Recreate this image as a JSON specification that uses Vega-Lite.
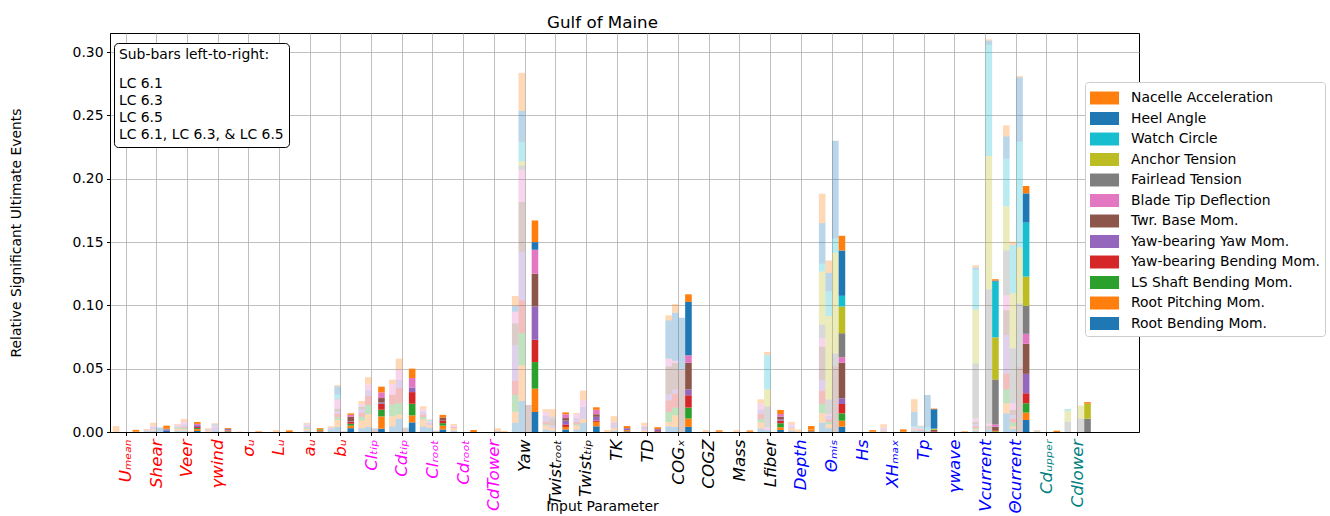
{
"$schema": "https://vega.github.io/schema/vega-lite/v6.json",
"width": 1029, "height": 399,
"autosize": {"type": "none"},
"padding": {"left": 110, "top": 33, "right": 191, "bottom": 84},
"background": "white",
"config": {
  "font": "DejaVu Sans",
  "view": {"stroke": "black", "strokeWidth": 1},
  "axis": {"labelFont": "DejaVu Sans", "titleFont": "DejaVu Sans", "labelColor": "black", "titleColor": "black", "tickColor": "black", "domainColor": "black", "gridColor": "#b0b0b0", "gridWidth": 0.8, "domainWidth": 1, "tickWidth": 1},
  "legend": {"labelFont": "DejaVu Sans", "titleFont": "DejaVu Sans"}
},
"title": {"text": "Gulf of Maine", "fontSize": 16.7, "fontWeight": "normal", "color": "black", "anchor": "middle", "offset": 8, "baseline": "alphabetic", "dx": -22, "dy": 20},
"data": {"values": [
{"p":"Uₘₑₐₙ","lc":"LC 6.1","RP":0.0007,"NA":0.004},
{"p":"Uₘₑₐₙ","lc":"LC 6.1, LC 6.3, & LC 6.5","RP":0.0005,"NA":0.0012},
{"p":"Shear","lc":"LC 6.1","RB":0.0005,"YY":0.0008,"NA":0.001},
{"p":"Shear","lc":"LC 6.3","RB":0.001,"RP":0.001,"YY":0.002,"BT":0.001,"NA":0.0023},
{"p":"Shear","lc":"LC 6.5","RB":0.0005,"HA":0.003},
{"p":"Shear","lc":"LC 6.1, LC 6.3, & LC 6.5","RB":0.001,"YY":0.001,"FT":0.0005,"NA":0.0025},
{"p":"Veer","lc":"LC 6.1","RB":0.001,"RP":0.0015,"LS":0.001,"YY":0.001,"BT":0.0007,"NA":0.001},
{"p":"Veer","lc":"LC 6.3","RB":0.001,"RP":0.001,"LS":0.001,"YB":0.001,"YY":0.002,"BT":0.002,"NA":0.0023},
{"p":"Veer","lc":"LC 6.5","NA":0.0005},
{"p":"Veer","lc":"LC 6.1, LC 6.3, & LC 6.5","RB":0.0008,"RP":0.0015,"LS":0.0008,"YB":0.0008,"YY":0.0015,"BT":0.001,"NA":0.0015},
{"p":"γwind","lc":"LC 6.1","RP":0.001,"YY":0.001,"NA":0.001},
{"p":"γwind","lc":"LC 6.3","RB":0.001,"YY":0.003,"BT":0.001,"HA":0.001,"NA":0.001},
{"p":"γwind","lc":"LC 6.5","NA":0.0003},
{"p":"γwind","lc":"LC 6.1, LC 6.3, & LC 6.5","RB":0.0005,"RP":0.0008,"YY":0.001,"NA":0.0008},
{"p":"σᵤ","lc":"LC 6.1","NA":0.0003},
{"p":"σᵤ","lc":"LC 6.1, LC 6.3, & LC 6.5","RP":0.0002,"NA":0.0003},
{"p":"Lᵤ","lc":"LC 6.3","NA":0.0016},
{"p":"Lᵤ","lc":"LC 6.1, LC 6.3, & LC 6.5","RP":0.0008,"NA":0.0005},
{"p":"aᵤ","lc":"LC 6.3","RB":0.001,"RP":0.0015,"LS":0.001,"YY":0.0015,"BT":0.001,"FT":0.0005,"NA":0.0007},
{"p":"aᵤ","lc":"LC 6.1, LC 6.3, & LC 6.5","RB":0.0005,"RP":0.0015,"LS":0.0005,"NA":0.0006},
{"p":"bᵤ","lc":"LC 6.1","RB":0.002,"YY":0.0015,"NA":0.001},
{"p":"bᵤ","lc":"LC 6.3","RB":0.004,"RP":0.0055,"LS":0.002,"YB":0.003,"YY":0.002,"TB":0.002,"BT":0.007,"FT":0.001,"WC":0.003,"HA":0.0065,"NA":0.001},
{"p":"bᵤ","lc":"LC 6.5","TB":0.0005},
{"p":"bᵤ","lc":"LC 6.1, LC 6.3, & LC 6.5","RB":0.003,"RP":0.002,"LS":0.0015,"YB":0.0015,"YY":0.0005,"TB":0.0035,"BT":0.0015,"NA":0.0012},
{"p":"Clₜᵢₚ","lc":"LC 6.1","RB":0.003,"RP":0.006,"LS":0.003,"YB":0.003,"YY":0.003,"TB":0.002,"BT":0.002,"NA":0.0025},
{"p":"Clₜᵢₚ","lc":"LC 6.3","RB":0.004,"RP":0.01,"LS":0.0074,"YB":0.007,"YY":0.0045,"BT":0.0047,"NA":0.0056},
{"p":"Clₜᵢₚ","lc":"LC 6.5","TB":0.002,"FT":0.001},
{"p":"Clₜᵢₚ","lc":"LC 6.1, LC 6.3, & LC 6.5","RB":0.0026,"RP":0.0097,"LS":0.0053,"YB":0.0047,"YY":0.001,"TB":0.0035,"BT":0.0045,"NA":0.0045},
{"p":"Cdₜᵢₚ","lc":"LC 6.1","RB":0.0045,"RP":0.0079,"LS":0.0092,"YB":0.0079,"BT":0.0084,"NA":0.0034},
{"p":"Cdₜᵢₚ","lc":"LC 6.3","RB":0.0105,"RP":0.0032,"LS":0.0092,"YB":0.0118,"YY":0.0066,"BT":0.0079,"NA":0.0087},
{"p":"Cdₜᵢₚ","lc":"LC 6.5","TB":0.002,"FT":0.0015},
{"p":"Cdₜᵢₚ","lc":"LC 6.1, LC 6.3, & LC 6.5","RB":0.0076,"RP":0.0055,"LS":0.0092,"YB":0.0092,"YY":0.0037,"BT":0.0074,"NA":0.0074},
{"p":"Clᵣₒₒₜ","lc":"LC 6.1","RB":0.0045,"RP":0.0053,"LS":0.002,"YB":0.002,"YY":0.002,"BT":0.002,"NA":0.0025},
{"p":"Clᵣₒₒₜ","lc":"LC 6.3","RB":0.0035,"RP":0.002,"YY":0.002,"BT":0.001,"WC":0.001,"NA":0.0005},
{"p":"Clᵣₒₒₜ","lc":"LC 6.5","TB":0.001},
{"p":"Clᵣₒₒₜ","lc":"LC 6.1, LC 6.3, & LC 6.5","RB":0.002,"RP":0.003,"LS":0.002,"YB":0.002,"TB":0.0025,"NA":0.002},
{"p":"Cdᵣₒₒₜ","lc":"LC 6.1","RB":0.001,"RP":0.002,"YB":0.001,"BT":0.001,"NA":0.0013},
{"p":"Cdᵣₒₒₜ","lc":"LC 6.1, LC 6.3, & LC 6.5","RP":0.0008,"NA":0.0008},
{"p":"CdTower","lc":"LC 6.5","TB":0.001,"NA":0.002},
{"p":"CdTower","lc":"LC 6.1, LC 6.3, & LC 6.5","NA":0.0003},
{"p":"Yaw","lc":"LC 6.1","RB":0.0073,"RP":0.0087,"LS":0.0132,"YB":0.0113,"YY":0.0282,"TB":0.0171,"BT":0.0092,"HA":0.0045,"NA":0.0079},
{"p":"Yaw","lc":"LC 6.3","RB":0.0245,"RP":0.0282,"LS":0.0255,"YB":0.0258,"YY":0.0381,"TB":0.0395,"BT":0.0255,"FT":0.0034,"AT":0.0032,"WC":0.0153,"HA":0.0245,"NA":0.03},
{"p":"Yaw","lc":"LC 6.5","TB":0.0213},
{"p":"Yaw","lc":"LC 6.1, LC 6.3, & LC 6.5","RB":0.0158,"RP":0.0184,"LS":0.021,"YB":0.0176,"YY":0.0263,"TB":0.0258,"BT":0.019,"HA":0.006,"NA":0.0171},
{"p":"Twistᵣₒₒₜ","lc":"LC 6.1","RB":0.002,"RP":0.003,"LS":0.001,"YB":0.002,"YY":0.005,"BT":0.003,"NA":0.002},
{"p":"Twistᵣₒₒₜ","lc":"LC 6.3","RB":0.001,"RP":0.002,"YY":0.002,"TB":0.005,"FT":0.002,"NA":0.006},
{"p":"Twistᵣₒₒₜ","lc":"LC 6.1, LC 6.3, & LC 6.5","RB":0.002,"RP":0.002,"YB":0.002,"YY":0.003,"TB":0.002,"BT":0.003,"NA":0.0015},
{"p":"Twistₜᵢₚ","lc":"LC 6.1","RB":0.002,"RP":0.003,"LS":0.001,"YB":0.002,"YY":0.003,"BT":0.003,"NA":0.001},
{"p":"Twistₜᵢₚ","lc":"LC 6.3","RB":0.0071,"RP":0.0032,"YY":0.0095,"BT":0.0053,"NA":0.0076},
{"p":"Twistₜᵢₚ","lc":"LC 6.1, LC 6.3, & LC 6.5","RB":0.0045,"RP":0.0035,"YB":0.001,"YY":0.003,"TB":0.002,"BT":0.0035,"NA":0.002},
{"p":"TK","lc":"LC 6.1","NA":0.0016},
{"p":"TK","lc":"LC 6.3","RB":0.001,"RP":0.002,"YY":0.003,"TB":0.001,"BT":0.001,"NA":0.0045},
{"p":"TK","lc":"LC 6.1, LC 6.3, & LC 6.5","RB":0.0005,"RP":0.001,"YY":0.0015,"NA":0.0017},
{"p":"TD","lc":"LC 6.3","RP":0.001,"YY":0.002,"TB":0.001,"BT":0.001,"NA":0.0023},
{"p":"TD","lc":"LC 6.1, LC 6.3, & LC 6.5","RB":0.0003,"YB":0.0005,"YY":0.0015,"NA":0.0015},
{"p":"COGₓ","lc":"LC 6.1","RB":0.0045,"RP":0.0034,"LS":0.0079,"YB":0.0092,"YY":0.0047,"TB":0.0221,"BT":0.0061,"HA":0.0303,"NA":0.0039},
{"p":"COGₓ","lc":"LC 6.3","RB":0.004,"RP":0.0092,"LS":0.006,"YB":0.0111,"YY":0.0032,"TB":0.0211,"BT":0.0016,"HA":0.0379,"NA":0.0069},
{"p":"COGₓ","lc":"LC 6.5","TB":0.0492,"HA":0.041},
{"p":"COGₓ","lc":"LC 6.1, LC 6.3, & LC 6.5","RB":0.004,"RP":0.0066,"LS":0.0087,"YB":0.0097,"YY":0.0045,"TB":0.0211,"BT":0.006,"HA":0.0421,"NA":0.006},
{"p":"COGZ","lc":"LC 6.3","NA":0.0016},
{"p":"COGZ","lc":"LC 6.1, LC 6.3, & LC 6.5","RP":0.0005,"NA":0.0008},
{"p":"Mass","lc":"LC 6.3","NA":0.0015},
{"p":"Mass","lc":"LC 6.1, LC 6.3, & LC 6.5","RP":0.0004,"NA":0.0008},
{"p":"Lfiber","lc":"LC 6.1","RB":0.0029,"RP":0.0047,"LS":0.0026,"YB":0.004,"YY":0.0037,"BT":0.0047,"NA":0.0032},
{"p":"Lfiber","lc":"LC 6.3","RB":0.0016,"BT":0.0021,"FT":0.0163,"AT":0.0137,"WC":0.0271,"NA":0.0024},
{"p":"Lfiber","lc":"LC 6.1, LC 6.3, & LC 6.5","RB":0.0016,"RP":0.0021,"LS":0.0032,"YB":0.0021,"YY":0.001,"TB":0.0021,"BT":0.0021,"NA":0.0032},
{"p":"Depth","lc":"LC 6.1","RB":0.001,"RP":0.002,"YY":0.001,"BT":0.002,"NA":0.002},
{"p":"Depth","lc":"LC 6.3","RP":0.001,"NA":0.001},
{"p":"Depth","lc":"LC 6.1, LC 6.3, & LC 6.5","RB":0.0005,"RP":0.0015,"NA":0.0027},
{"p":"Θₘᵢₛ","lc":"LC 6.1","RB":0.0074,"RP":0.0074,"LS":0.0074,"YB":0.0105,"YY":0.0084,"TB":0.0263,"BT":0.0066,"FT":0.0107,"AT":0.042,"WC":0.0061,"HA":0.0321,"NA":0.0232},
{"p":"Θₘᵢₛ","lc":"LC 6.3","RB":0.003,"RP":0.003,"LS":0.002,"YB":0.002,"YY":0.0026,"BT":0.0013,"FT":0.0118,"AT":0.0658,"WC":0.0197,"HA":0.0145,"NA":0.0097},
{"p":"Θₘᵢₛ","lc":"LC 6.5","TB":0.052,"FT":0.01,"AT":0.0795,"WC":0.0113,"HA":0.0771},
{"p":"Θₘᵢₛ","lc":"LC 6.1, LC 6.3, & LC 6.5","RB":0.0042,"RP":0.0047,"LS":0.0058,"YB":0.0074,"YY":0.0045,"TB":0.0282,"BT":0.0042,"FT":0.019,"AT":0.0211,"WC":0.0084,"HA":0.0358,"NA":0.0116},
{"p":"Hs","lc":"LC 6.1, LC 6.3, & LC 6.5","RP":0.0005,"NA":0.001},
{"p":"XHₘₐₓ","lc":"LC 6.1","RB":0.0005,"RP":0.001,"YY":0.001,"BT":0.001,"NA":0.0026},
{"p":"XHₘₐₓ","lc":"LC 6.1, LC 6.3, & LC 6.5","RP":0.0006,"NA":0.0015},
{"p":"Tp","lc":"LC 6.1","RB":0.001,"RP":0.001,"YY":0.0008,"BT":0.0008,"WC":0.001,"HA":0.0113,"NA":0.01},
{"p":"Tp","lc":"LC 6.3","RB":0.001,"YB":0.001,"BT":0.001,"WC":0.0015,"NA":0.0005},
{"p":"Tp","lc":"LC 6.5","FT":0.001,"WC":0.0025,"HA":0.0257},
{"p":"Tp","lc":"LC 6.1, LC 6.3, & LC 6.5","RB":0.0003,"YB":0.0005,"TB":0.001,"AT":0.0006,"WC":0.0003,"HA":0.0153,"NA":0.0005},
{"p":"γwave","lc":"LC 6.1, LC 6.3, & LC 6.5","NA":0.0004},
{"p":"Vcurrent","lc":"LC 6.1","RB":0.0011,"RP":0.001,"LS":0.001,"YB":0.0015,"YY":0.0015,"TB":0.002,"BT":0.0026,"FT":0.0434,"AT":0.0426,"WC":0.0316,"HA":0.0016,"NA":0.0018},
{"p":"Vcurrent","lc":"LC 6.5","RB":0.0018,"TB":0.003,"BT":0.002,"FT":0.1058,"AT":0.1053,"WC":0.0877,"HA":0.0034,"NA":0.001},
{"p":"Vcurrent","lc":"LC 6.1, LC 6.3, & LC 6.5","RP":0.0005,"LS":0.0005,"YB":0.0006,"TB":0.0026,"BT":0.0018,"FT":0.0355,"AT":0.0332,"WC":0.044,"HA":0.0008,"NA":0.0011},
{"p":"Θcurrent","lc":"LC 6.1","RB":0.0147,"RP":0.0079,"LS":0.0111,"YB":0.0126,"YY":0.0302,"TB":0.0197,"BT":0.0118,"FT":0.0355,"AT":0.0347,"WC":0.0376,"HA":0.0176,"NA":0.0087},
{"p":"Θcurrent","lc":"LC 6.3","RB":0.0024,"RP":0.002,"LS":0.003,"YB":0.003,"YY":0.003,"TB":0.004,"BT":0.0053,"FT":0.0434,"AT":0.0434,"WC":0.0381,"NA":0.0026},
{"p":"Θcurrent","lc":"LC 6.5","TB":0.0516,"FT":0.05,"AT":0.0442,"WC":0.0834,"HA":0.0508,"NA":0.001},
{"p":"Θcurrent","lc":"LC 6.1, LC 6.3, & LC 6.5","RB":0.0095,"RP":0.0058,"LS":0.0074,"YB":0.0079,"YY":0.0153,"TB":0.0237,"BT":0.0079,"FT":0.0221,"AT":0.0231,"WC":0.0426,"HA":0.0231,"NA":0.0058},
{"p":"Cdᵤₚₚₑᵣ","lc":"LC 6.1","FT":0.0008,"NA":0.0008},
{"p":"Cdᵤₚₚₑᵣ","lc":"LC 6.1, LC 6.3, & LC 6.5","NA":0.001},
{"p":"Cdlower","lc":"LC 6.1","FT":0.008,"AT":0.0087,"WC":0.0015},
{"p":"Cdlower","lc":"LC 6.5","FT":0.0105,"AT":0.0105},
{"p":"Cdlower","lc":"LC 6.1, LC 6.3, & LC 6.5","FT":0.0105,"AT":0.0118,"NA":0.0013}
]},
"transform": [
  {"fold": ["RB","RP","LS","YB","YY","TB","BT","FT","AT","WC","HA","NA"], "as": ["key","v"]},
  {"filter": "datum.v > 0"},
  {"calculate": "indexof(['RB','RP','LS','YB','YY','TB','BT','FT','AT','WC','HA','NA'], datum.key)", "as": "o"}
],
"mark": {"type": "bar"},
"encoding": {
  "x": {"field": "p", "type": "nominal",
    "scale": {"domain": ["Uₘₑₐₙ","Shear","Veer","γwind","σᵤ","Lᵤ","aᵤ","bᵤ","Clₜᵢₚ","Cdₜᵢₚ","Clᵣₒₒₜ","Cdᵣₒₒₜ","CdTower","Yaw","Twistᵣₒₒₜ","Twistₜᵢₚ","TK","TD","COGₓ","COGZ","Mass","Lfiber","Depth","Θₘᵢₛ","Hs","XHₘₐₓ","Tp","γwave","Vcurrent","Θcurrent","Cdᵤₚₚₑᵣ","Cdlower"], "paddingInner": 0, "paddingOuter": 0.76, "align": 0.014},
    "axis": {"title": "Input Parameter", "labelAngle": -90, "labelFontStyle": "italic", "labelFontSize": 16.7, "labelOverlap": false, "labelPadding": 3.5, "tickSize": 3.5, "grid": true, "bandPosition": 0.5,
      "labelColor": {"condition": [
        {"test": "indexof(['Uₘₑₐₙ','Shear','Veer','γwind','σᵤ','Lᵤ','aᵤ','bᵤ'], datum.value) >= 0", "value": "red"},
        {"test": "indexof(['Clₜᵢₚ','Cdₜᵢₚ','Clᵣₒₒₜ','Cdᵣₒₒₜ','CdTower'], datum.value) >= 0", "value": "magenta"},
        {"test": "indexof(['Depth','Θₘᵢₛ','Hs','XHₘₐₓ','Tp','γwave','Vcurrent','Θcurrent'], datum.value) >= 0", "value": "blue"},
        {"test": "indexof(['Cdᵤₚₚₑᵣ','Cdlower'], datum.value) >= 0", "value": "teal"}
      ], "value": "black"},
      "titleFontSize": 13.9, "titleFontWeight": "normal", "titleY": 74, "titleBaseline": "middle", "titleX": 492}},
  "xOffset": {"field": "lc", "type": "nominal", "scale": {"domain": ["LC 6.1","LC 6.3","LC 6.5","LC 6.1, LC 6.3, & LC 6.5"], "paddingInner": 0, "paddingOuter": 0.33}},
  "y": {"field": "v", "type": "quantitative", "stack": "zero",
    "scale": {"domain": [0, 0.315], "nice": false},
    "axis": {"title": "Relative Significant Ultimate Events", "values": [0,0.05,0.1,0.15,0.2,0.25,0.3], "format": ".2f", "labelFontSize": 13.9, "tickSize": 3.5, "labelPadding": 3.5, "grid": true, "titleFontSize": 13.9, "titleFontWeight": "normal", "titleX": -94, "titleY": 199.5, "titleAngle": 270, "titleAlign": "center", "titleBaseline": "middle"}},
  "color": {"field": "key", "type": "nominal",
    "scale": {"domain": ["NA","HA","WC","AT","FT","BT","TB","YY","YB","LS","RP","RB"], "range": ["#ff7f0e","#1f77b4","#17becf","#bcbd22","#7f7f7f","#e377c2","#8c564b","#9467bd","#d62728","#2ca02c","#ff7f0e","#1f77b4"]},
    "legend": {"title": null, "orient": "none", "legendX": 975, "legendY": 49, "symbolType": "M-1,-0.59H1.64V0.59H-1Z", "symbolSize": 484, "symbolStrokeWidth": 0, "symbolOpacity": 1, "labelFontSize": 13.9, "labelColor": "black", "labelOffset": 19, "rowPadding": 2.5, "padding": 5, "fillColor": "white", "strokeColor": "#cccccc", "cornerRadius": 3, "labelLimit": 300,
      "labelExpr": "{'NA':'Nacelle Acceleration','HA':'Heel Angle','WC':'Watch Circle','AT':'Anchor Tension','FT':'Fairlead Tension','BT':'Blade Tip Deflection','TB':'Twr. Base Mom.','YY':'Yaw-bearing Yaw Mom.','YB':'Yaw-bearing Bending Mom.','LS':'LS Shaft Bending Mom.','RP':'Root Pitching Mom.','RB':'Root Bending Mom.'}[datum.label]"}},
  "opacity": {"field": "lc", "type": "nominal",
    "scale": {"type": "ordinal", "domain": ["LC 6.1","LC 6.3","LC 6.5","LC 6.1, LC 6.3, & LC 6.5"], "range": [0.3,0.3,0.3,1]},
    "legend": {"title": "Sub-bars left-to-right:", "orient": "none", "legendX": 4, "legendY": 10, "titleFontSize": 13.9, "titleFontWeight": "normal", "titleColor": "black", "titlePadding": 15, "labelFontSize": 13.9, "labelColor": "black", "symbolSize": 0, "symbolOpacity": 0, "symbolStrokeWidth": 0, "labelOffset": -14, "rowPadding": 2, "padding": 5, "fillColor": "white", "strokeColor": "black", "cornerRadius": 4, "labelLimit": 300}},
  "order": {"field": "o", "type": "quantitative"}
}
}
